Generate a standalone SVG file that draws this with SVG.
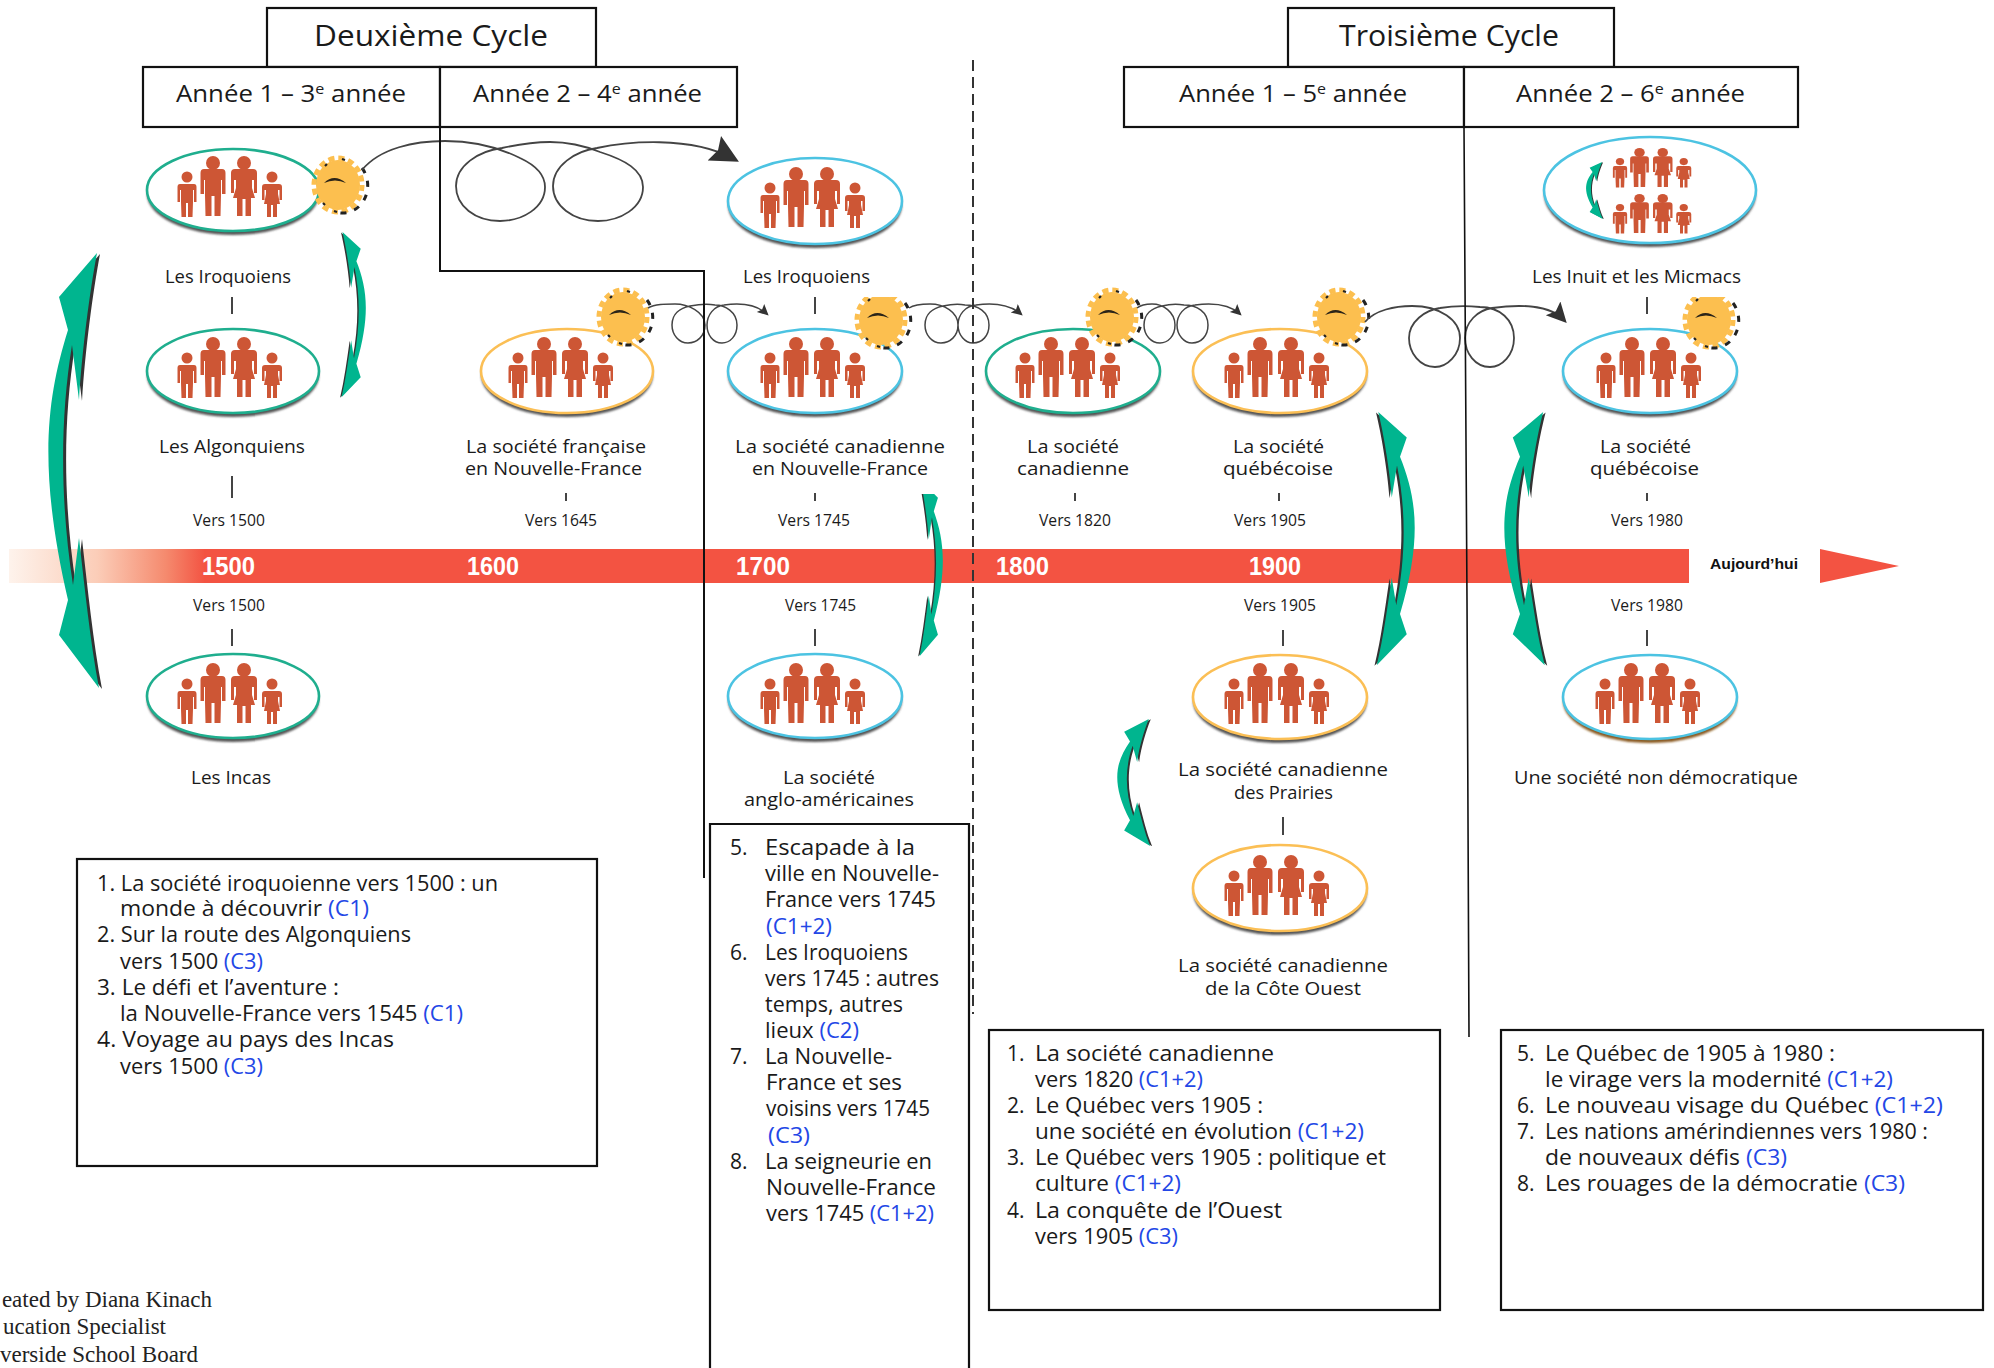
<svg xmlns="http://www.w3.org/2000/svg" xmlns:xlink="http://www.w3.org/1999/xlink" width="1994" height="1368" viewBox="0 0 1994 1368">
<style>
text{font-family:"Open Sans","Liberation Sans",sans-serif;fill:#1a1a1a}
.h1{font-size:29px}.h2{font-size:24px}.lb{font-size:18.5px}.yr{font-size:15.5px}.ls{font-size:21px}
.yb{font-family:"Liberation Sans",sans-serif;font-weight:bold;font-size:25px;fill:#fff}
.b{fill:#2347e6}
.box{fill:#fff;stroke:#111;stroke-width:2.2}
.rule{fill:none;stroke:#111;stroke-width:2}
.tick{stroke:#444;stroke-width:2}
.sh{fill:#555;filter:url(#blur)}
.ring{fill:#fff;stroke-width:2.6}
.gr{stroke:#1fae8e}.bl{stroke:#4cc3e2}.or{stroke:#fbbf55}
.sp{fill:none;stroke:#444;stroke-width:1.8}
.fig{fill:#cd5636;filter:url(#soft)}
</style>
<defs>
<filter id="blur" x="-10%" y="-10%" width="120%" height="120%"><feGaussianBlur stdDeviation="1.2"/></filter>
<filter id="soft" x="-10%" y="-10%" width="120%" height="120%"><feGaussianBlur stdDeviation="0.5"/></filter>
<linearGradient id="fade" gradientUnits="userSpaceOnUse" x1="9" y1="0" x2="205" y2="0">
<stop offset="0" stop-color="#fef3ec"/><stop offset="0.45" stop-color="#fbcdb8"/><stop offset="0.8" stop-color="#f58a6e"/><stop offset="1" stop-color="#f35342"/>
</linearGradient>
<g id="family">
<circle cx="-44" cy="-13" r="5.5" class="fig"/>
<path class="fig" d="M-53.5,-3 Q-53.5,-6 -51,-6 H-37 Q-34.5,-6 -34.5,-3 V12 H-37 V0 H-38 V12 L-38.5,27 H-43 V13 H-45 V27 H-49.5 L-50,12 V0 H-51 V12 H-53.5Z"/>
<circle cx="-18" cy="-27" r="7" class="fig"/>
<path class="fig" d="M-30.500,-17 Q-30.500,-21 -27,-21 H-9 Q-5.500,-21 -5.500,-17 V4 H-9 V-10 H-10 V5 L-10.500,26 H-16.500 V6 H-19.500 V26 H-25.500 L-26,5 V-10 H-27 V4 H-30.500Z"/>
<circle cx="13" cy="-27" r="7" class="fig"/>
<path class="fig" d="M0,-17 Q0,-21 4,-21 H22 Q26,-21 26,-17 V3 H23 V-10 H21 V-2 L24,8 H20 V26 H14.500 V9 H11.500 V26 H6 V8 H2 L5,-2 V-10 H3 V3 H0Z"/>
<circle cx="41" cy="-13" r="5.500" class="fig"/>
<path class="fig" d="M31,-3 Q31,-6 34,-6 H48 Q51,-6 51,-3 V10 H48.500 V0 H47 V4 L49,14 H46 V27 H42 V15 H40 V27 H36 V14 H33 L35,4 V0 H33.500 V10 H31Z"/>
</g>
<g id="gear">
<ellipse rx="22" ry="25" fill="#fcbf4f"/>
<ellipse rx="24" ry="27" fill="none" stroke="#fcbf4f" stroke-width="5" stroke-dasharray="6 4"/>
<path d="M24,-17 A25,27.500 0 0 1 -2,27" fill="none" stroke="#222" stroke-width="3" stroke-dasharray="6 8"/>
<path d="M-13,-19 L-11,-21 M4,-26 L7,-25 M-15,18 L-13,20 M-4,26 L-1,27" stroke="#222" stroke-width="2.200"/>
<path d="M-14,-2 Q-4,-12 8,-2 Q-3,-7 -14,-2Z" fill="#2b2418"/>
</g>
<g id="swoop">
<path transform="translate(3,1)" fill="#333" d="M49,0 L11,44 L20,77 C-2,147 -10,217 20,347 L11,382 L51,435 C42,387 37,337 31,285 L25,332 C12,247 12,167 24,92 L31,147 C34,97 42,37 49,0Z"/>
<path fill="#00b58f" d="M49,0 L11,44 L20,77 C-2,147 -10,217 20,347 L11,382 L51,435 C42,387 37,337 31,285 L25,332 C12,247 12,167 24,92 L31,147 C34,97 42,37 49,0Z"/>
</g>
<marker id="hS" viewBox="0 0 10 10" refX="8" refY="5" markerUnits="userSpaceOnUse" markerWidth="14" markerHeight="11" orient="auto"><path d="M0,0 L10,5 L0,10 L2,5Z" fill="#333"/></marker>
<marker id="hM" viewBox="0 0 10 10" refX="8" refY="5" markerUnits="userSpaceOnUse" markerWidth="26" markerHeight="20" orient="auto"><path d="M0,0 L10,5 L0,10 L2,5Z" fill="#333"/></marker>
<marker id="hL" viewBox="0 0 10 10" refX="8" refY="5" markerUnits="userSpaceOnUse" markerWidth="40" markerHeight="28" orient="auto"><path d="M0,0 L10,5 L0,10 L1.500,5Z" fill="#333"/></marker>
<clipPath id="clipF"><rect x="840" y="297" width="90" height="80"/></clipPath>
<clipPath id="clipJ"><rect x="1670" y="297" width="90" height="80"/></clipPath>
<clipPath id="clipA3"><rect x="900" y="494" width="60" height="180"/></clipPath>
</defs>
<rect width="1994" height="1368" fill="#fff"/>

<g id="timeline">
<rect x="9" y="549" width="196" height="34" fill="url(#fade)"/>
<rect x="204" y="549" width="1485" height="34" fill="#f35342"/>
<polygon points="1820,549 1899,566 1820,583" fill="#f35342"/>
<text class="yb" x="202" y="575" textLength="53" lengthAdjust="spacingAndGlyphs">1500</text>
<text class="yb" x="467" y="575" textLength="52" lengthAdjust="spacingAndGlyphs">1600</text>
<text class="yb" x="736" y="575" textLength="54" lengthAdjust="spacingAndGlyphs">1700</text>
<text class="yb" x="996" y="575" textLength="53" lengthAdjust="spacingAndGlyphs">1800</text>
<text class="yb" x="1249" y="575" textLength="52" lengthAdjust="spacingAndGlyphs">1900</text>
<text x="1710" y="569" textLength="88" lengthAdjust="spacingAndGlyphs" style="font-family:'Liberation Sans',sans-serif;font-weight:bold;font-size:15.500px;fill:#111">Aujourd’hui</text>
</g>

<g id="header-deuxieme">
<rect class="box" x="267" y="8" width="329" height="59"/>
<text class="h1" x="314" y="46" textLength="234" lengthAdjust="spacingAndGlyphs">Deuxième Cycle</text>
<rect class="box" x="143" y="67" width="297" height="60"/>
<text class="h2" x="176" y="102" textLength="230" lengthAdjust="spacingAndGlyphs">Année 1 – 3<tspan dy="-8" font-size="15">e</tspan><tspan dy="8"> année</tspan></text>
<rect class="box" x="440" y="67" width="297" height="60"/>
<text class="h2" x="473" y="102" textLength="229" lengthAdjust="spacingAndGlyphs">Année 2 – 4<tspan dy="-8" font-size="15">e</tspan><tspan dy="8"> année</tspan></text>
</g>
<g id="header-troisieme">
<rect class="box" x="1288" y="8" width="326" height="59"/>
<text class="h1" x="1339" y="46" textLength="220" lengthAdjust="spacingAndGlyphs">Troisième Cycle</text>
<rect class="box" x="1124" y="67" width="340" height="60"/>
<text class="h2" x="1179" y="102" textLength="228" lengthAdjust="spacingAndGlyphs">Année 1 – 5<tspan dy="-8" font-size="15">e</tspan><tspan dy="8"> année</tspan></text>
<rect class="box" x="1464" y="67" width="334" height="60"/>
<text class="h2" x="1516" y="102" textLength="229" lengthAdjust="spacingAndGlyphs">Année 2 – 6<tspan dy="-8" font-size="15">e</tspan><tspan dy="8"> année</tspan></text>
</g>

<g id="node-iroquoiens-1500">
<ellipse class="sh" cx="233" cy="194" rx="86" ry="41"/><ellipse class="ring gr" cx="233" cy="190" rx="86" ry="41"/>
<use href="#family" x="231" y="190"/>
<use href="#gear" x="338" y="185"/>
<text class="lb" x="165" y="283" textLength="126" lengthAdjust="spacingAndGlyphs">Les Iroquoiens</text>
</g>
<g id="node-algonquiens">
<ellipse class="sh" cx="233" cy="375" rx="86" ry="42"/><ellipse class="ring gr" cx="233" cy="371" rx="86" ry="42"/>
<use href="#family" x="231" y="371"/>
<text class="lb" x="159" y="453" textLength="146" lengthAdjust="spacingAndGlyphs">Les Algonquiens</text>
<text class="yr" x="193" y="526" textLength="72" lengthAdjust="spacingAndGlyphs">Vers 1500</text>
</g>
<g id="node-incas">
<text class="yr" x="193" y="611" textLength="72" lengthAdjust="spacingAndGlyphs">Vers 1500</text>
<ellipse class="sh" cx="233" cy="700" rx="86" ry="42"/><ellipse class="ring gr" cx="233" cy="696" rx="86" ry="42"/>
<use href="#family" x="231" y="697"/>
<text class="lb" x="191" y="784" textLength="80" lengthAdjust="spacingAndGlyphs">Les Incas</text>
</g>
<g id="node-francaise">
<ellipse class="sh" cx="567" cy="375" rx="86" ry="42"/><ellipse class="ring or" cx="567" cy="371" rx="86" ry="42"/>
<use href="#family" x="562" y="371"/>
<use href="#gear" x="623" y="317"/>
<text class="lb" x="466" y="453" textLength="180" lengthAdjust="spacingAndGlyphs">La société française</text>
<text class="lb" x="465" y="475" textLength="177" lengthAdjust="spacingAndGlyphs">en Nouvelle-France</text>
<text class="yr" x="525" y="526" textLength="72" lengthAdjust="spacingAndGlyphs">Vers 1645</text>
</g>
<g id="node-iroquoiens-1745">
<ellipse class="sh" cx="815" cy="205" rx="87" ry="43"/><ellipse class="ring bl" cx="815" cy="201" rx="87" ry="43"/>
<use href="#family" x="814" y="201"/>
<text class="lb" x="743" y="283" textLength="127" lengthAdjust="spacingAndGlyphs">Les Iroquoiens</text>
</g>
<g id="node-canadienne-nf">
<ellipse class="sh" cx="815" cy="375" rx="87" ry="42"/><ellipse class="ring bl" cx="815" cy="371" rx="87" ry="42"/>
<use href="#family" x="814" y="371"/>
<g clip-path="url(#clipF)"><use href="#gear" x="881" y="320"/></g>
<text class="lb" x="735" y="453" textLength="210" lengthAdjust="spacingAndGlyphs">La société canadienne</text>
<text class="lb" x="752" y="475" textLength="176" lengthAdjust="spacingAndGlyphs">en Nouvelle-France</text>
<text class="yr" x="778" y="526" textLength="72" lengthAdjust="spacingAndGlyphs">Vers 1745</text>
</g>
<g id="node-anglo">
<text class="yr" x="785" y="611" textLength="71" lengthAdjust="spacingAndGlyphs">Vers 1745</text>
<ellipse class="sh" cx="815" cy="700" rx="87" ry="42"/><ellipse class="ring bl" cx="815" cy="696" rx="87" ry="42"/>
<use href="#family" x="814" y="697"/>
<text class="lb" x="783" y="784" textLength="92" lengthAdjust="spacingAndGlyphs">La société</text>
<text class="lb" x="744" y="806" textLength="170" lengthAdjust="spacingAndGlyphs">anglo-américaines</text>
</g>
<g id="node-canadienne">
<ellipse class="sh" cx="1073" cy="375" rx="87" ry="42"/><ellipse class="ring gr" cx="1073" cy="371" rx="87" ry="42"/>
<use href="#family" x="1069" y="371"/>
<use href="#gear" x="1112" y="317"/>
<text class="lb" x="1027" y="453" textLength="92" lengthAdjust="spacingAndGlyphs">La société</text>
<text class="lb" x="1017" y="475" textLength="112" lengthAdjust="spacingAndGlyphs">canadienne</text>
<text class="yr" x="1039" y="526" textLength="72" lengthAdjust="spacingAndGlyphs">Vers 1820</text>
</g>
<g id="node-quebecoise-1905">
<ellipse class="sh" cx="1280" cy="375" rx="87" ry="42"/><ellipse class="ring or" cx="1280" cy="371" rx="87" ry="42"/>
<use href="#family" x="1278" y="371"/>
<use href="#gear" x="1339" y="317"/>
<text class="lb" x="1233" y="453" textLength="91" lengthAdjust="spacingAndGlyphs">La société</text>
<text class="lb" x="1223" y="475" textLength="110" lengthAdjust="spacingAndGlyphs">québécoise</text>
<text class="yr" x="1234" y="526" textLength="72" lengthAdjust="spacingAndGlyphs">Vers 1905</text>
</g>
<g id="node-prairies">
<text class="yr" x="1244" y="611" textLength="72" lengthAdjust="spacingAndGlyphs">Vers 1905</text>
<ellipse class="sh" cx="1280" cy="701" rx="87" ry="42"/><ellipse class="ring or" cx="1280" cy="697" rx="87" ry="42"/>
<use href="#family" x="1278" y="697"/>
<text class="lb" x="1178" y="776" textLength="210" lengthAdjust="spacingAndGlyphs">La société canadienne</text>
<text class="lb" x="1234" y="799" textLength="99" lengthAdjust="spacingAndGlyphs">des Prairies</text>
</g>
<g id="node-cote-ouest">
<ellipse class="sh" cx="1280" cy="892" rx="87" ry="43"/><ellipse class="ring or" cx="1280" cy="888" rx="87" ry="43"/>
<use href="#family" x="1278" y="889"/>
<text class="lb" x="1178" y="972" textLength="210" lengthAdjust="spacingAndGlyphs">La société canadienne</text>
<text class="lb" x="1205" y="995" textLength="156" lengthAdjust="spacingAndGlyphs">de la Côte Ouest</text>
</g>
<g id="node-inuit">
<ellipse class="sh" cx="1650" cy="194" rx="106" ry="53"/><ellipse class="ring bl" cx="1650" cy="190" rx="106" ry="53"/>
<use href="#family" transform="translate(1653,170) scale(.75,.65)"/>
<use href="#family" transform="translate(1653,216) scale(.75,.65)"/>
<text class="lb" x="1532" y="283" textLength="209" lengthAdjust="spacingAndGlyphs">Les Inuit et les Micmacs</text>
</g>
<g id="node-quebecoise-1980">
<ellipse class="sh" cx="1650" cy="375" rx="87" ry="42"/><ellipse class="ring bl" cx="1650" cy="371" rx="87" ry="42"/>
<use href="#family" x="1650" y="371"/>
<g clip-path="url(#clipJ)"><use href="#gear" x="1709" y="320"/></g>
<text class="lb" x="1600" y="453" textLength="91" lengthAdjust="spacingAndGlyphs">La société</text>
<text class="lb" x="1590" y="475" textLength="109" lengthAdjust="spacingAndGlyphs">québécoise</text>
<text class="yr" x="1611" y="526" textLength="72" lengthAdjust="spacingAndGlyphs">Vers 1980</text>
</g>
<g id="node-non-democratique">
<text class="yr" x="1611" y="611" textLength="72" lengthAdjust="spacingAndGlyphs">Vers 1980</text>
<ellipse class="sh" cx="1650" cy="701" rx="87" ry="42" style="fill:#8a5a20"/><ellipse class="ring bl" cx="1650" cy="697" rx="87" ry="42"/>
<use href="#family" x="1649" y="697"/>
<text class="lb" x="1514" y="784" textLength="284" lengthAdjust="spacingAndGlyphs">Une société non démocratique</text>
</g>

<g id="connectors">
<g class="ticks">
<line class="tick" x1="232" y1="297" x2="232" y2="314"/><line class="tick" x1="232" y1="476" x2="232" y2="498"/>
<line class="tick" x1="566" y1="493" x2="566" y2="501"/><line class="tick" x1="815" y1="297" x2="815" y2="314"/>
<line class="tick" x1="815" y1="493" x2="815" y2="501"/><line class="tick" x1="1075" y1="493" x2="1075" y2="501"/>
<line class="tick" x1="1279" y1="493" x2="1279" y2="501"/><line class="tick" x1="1647" y1="297" x2="1647" y2="314"/>
<line class="tick" x1="1647" y1="493" x2="1647" y2="501"/><line class="tick" x1="232" y1="629" x2="232" y2="646"/>
<line class="tick" x1="815" y1="629" x2="815" y2="646"/><line class="tick" x1="1283" y1="630" x2="1283" y2="646"/>
<line class="tick" x1="1647" y1="630" x2="1647" y2="646"/><line class="tick" x1="1283" y1="817" x2="1283" y2="835"/>
</g>
<path class="sp" marker-end="url(#hL)" d="M362,170 C380,148 415,141 445,141 C475,141 500,148 520,158 C535,165 545,175 545,187 C545,208 522,221 500,221 C475,221 456,206 456,186 C456,166 478,151 502,148 C520,144 535,142 550,142 C570,142 585,146 600,152 C625,160 643,170 643,187 C643,208 620,221 598,221 C573,221 553,206 553,186 C553,166 575,151 597,148 C625,142 690,135 734,159"/>
<path class="sp" style="stroke-width:1.500" marker-end="url(#hS)" d="M648,308 C655,304 665,304 675,304 C688,304 705,312 705,325 C705,336 697,343 688,343 C679,343 672,335 672,325 C672,314 680,308 690,306 C700,304 710,304 715,305 C725,305 737,312 737,325 C737,336 730,343 722,343 C713,343 707,335 707,325 C707,315 714,306 724,305 C738,303 755,303 767,314"/>
<path class="sp" style="stroke-width:1.500" marker-end="url(#hS)" d="M909,308 C915,304 925,304 930,304 C944,304 958,312 958,325 C958,336 950,343 941,343 C932,343 925,335 925,325 C925,314 933,308 943,306 C952,304 960,304 965,305 C978,305 989,312 989,325 C989,336 982,343 973,343 C965,343 958,335 958,325 C958,315 965,306 976,305 C990,303 1008,303 1021,314"/>
<path class="sp" style="stroke-width:1.500" marker-end="url(#hS)" d="M1137,308 C1142,304 1150,304 1152,304 C1163,304 1175,312 1175,325 C1175,336 1168,343 1160,343 C1151,343 1144,335 1144,325 C1144,314 1152,308 1162,306 C1170,304 1178,304 1184,305 C1197,305 1208,312 1208,325 C1208,336 1201,343 1192,343 C1184,343 1177,335 1177,325 C1177,315 1184,306 1195,305 C1210,303 1228,303 1240,314"/>
<path class="sp" marker-end="url(#hM)" d="M1365,322 C1375,310 1395,306 1412,306 C1440,306 1460,320 1460,338 C1460,355 1447,367 1435,367 C1420,367 1409,353 1409,338 C1409,322 1425,310 1440,308 C1452,306 1470,306 1480,307 C1500,307 1514,320 1514,338 C1514,355 1502,367 1490,367 C1475,367 1465,353 1465,338 C1465,322 1478,310 1492,308 C1520,304 1550,305 1564,320"/>
<use href="#swoop" transform="translate(48,253)"/>
<use href="#swoop" transform="translate(366,232) scale(-.48,.38)"/>
<g clip-path="url(#clipA3)"><use href="#swoop" transform="translate(943,480) scale(-.46,.405)"/></g>
<use href="#swoop" transform="translate(1415,412) scale(-.75,.582)"/>
<use href="#swoop" transform="translate(1504,412) scale(.8,.582)"/>
<use href="#swoop" transform="translate(1117,719) scale(.65,.292)"/>
<use href="#swoop" transform="translate(1586,162) scale(.33,.131)"/>
</g>

<g id="cycle-rules">
<polyline class="rule" points="440,127 440,271 704,271 704,878"/>
<line x1="973" y1="60" x2="973" y2="1014" stroke="#333" stroke-width="2" stroke-dasharray="11 6"/>
<polyline points="1464,127 1467,600 1469,1037" fill="none" stroke="#111" stroke-width="1.600"/>
</g>

<g id="list-1">
<rect class="box" x="77" y="859" width="520" height="307"/>
<text class="ls" x="97" y="891" textLength="401" lengthAdjust="spacingAndGlyphs">1. La société iroquoienne vers 1500 : un</text>
<text class="ls" x="120" y="916" textLength="249" lengthAdjust="spacingAndGlyphs">monde à découvrir <tspan class="b">(C1)</tspan></text>
<text class="ls" x="97" y="942" textLength="314" lengthAdjust="spacingAndGlyphs">2. Sur la route des Algonquiens</text>
<text class="ls" x="120" y="969" textLength="143" lengthAdjust="spacingAndGlyphs">vers 1500 <tspan class="b">(C3)</tspan></text>
<text class="ls" x="97" y="995" textLength="242" lengthAdjust="spacingAndGlyphs">3. Le défi et l’aventure :</text>
<text class="ls" x="120" y="1021" textLength="343" lengthAdjust="spacingAndGlyphs">la Nouvelle-France vers 1545 <tspan class="b">(C1)</tspan></text>
<text class="ls" x="97" y="1047" textLength="297" lengthAdjust="spacingAndGlyphs">4. Voyage au pays des Incas</text>
<text class="ls" x="120" y="1074" textLength="143" lengthAdjust="spacingAndGlyphs">vers 1500 <tspan class="b">(C3)</tspan></text>
</g>
<g id="list-2">
<polyline class="box" points="710,1368 710,824 969,824 969,1368"/>
<text class="ls" x="730" y="855">5.</text><text class="ls" x="765" y="855" textLength="150" lengthAdjust="spacingAndGlyphs">Escapade à la</text>
<text class="ls" x="765" y="881" textLength="174" lengthAdjust="spacingAndGlyphs">ville en Nouvelle-</text>
<text class="ls" x="765" y="907" textLength="171" lengthAdjust="spacingAndGlyphs">France vers 1745</text>
<text class="ls b" x="766" y="934" textLength="66" lengthAdjust="spacingAndGlyphs">(C1+2)</text>
<text class="ls" x="730" y="960">6.</text><text class="ls" x="765" y="960" textLength="143" lengthAdjust="spacingAndGlyphs">Les Iroquoiens</text>
<text class="ls" x="765" y="986" textLength="174" lengthAdjust="spacingAndGlyphs">vers 1745 : autres</text>
<text class="ls" x="765" y="1012" textLength="138" lengthAdjust="spacingAndGlyphs">temps, autres</text>
<text class="ls" x="765" y="1038" textLength="94" lengthAdjust="spacingAndGlyphs">lieux <tspan class="b">(C2)</tspan></text>
<text class="ls" x="730" y="1064">7.</text><text class="ls" x="765" y="1064" textLength="127" lengthAdjust="spacingAndGlyphs">La Nouvelle-</text>
<text class="ls" x="766" y="1090" textLength="136" lengthAdjust="spacingAndGlyphs">France et ses</text>
<text class="ls" x="766" y="1116" textLength="164" lengthAdjust="spacingAndGlyphs">voisins vers 1745</text>
<text class="ls b" x="768" y="1143" textLength="42" lengthAdjust="spacingAndGlyphs">(C3)</text>
<text class="ls" x="730" y="1169">8.</text><text class="ls" x="765" y="1169" textLength="167" lengthAdjust="spacingAndGlyphs">La seigneurie en</text>
<text class="ls" x="766" y="1195" textLength="170" lengthAdjust="spacingAndGlyphs">Nouvelle-France</text>
<text class="ls" x="766" y="1221" textLength="168" lengthAdjust="spacingAndGlyphs">vers 1745 <tspan class="b">(C1+2)</tspan></text>
</g>
<g id="list-3">
<rect class="box" x="989" y="1030" width="451" height="280"/>
<text class="ls" x="1007" y="1061">1.</text><text class="ls" x="1035" y="1061" textLength="239" lengthAdjust="spacingAndGlyphs">La société canadienne</text>
<text class="ls" x="1035" y="1087" textLength="168" lengthAdjust="spacingAndGlyphs">vers 1820 <tspan class="b">(C1+2)</tspan></text>
<text class="ls" x="1007" y="1113">2.</text><text class="ls" x="1035" y="1113" textLength="228" lengthAdjust="spacingAndGlyphs">Le Québec vers 1905 :</text>
<text class="ls" x="1035" y="1139" textLength="329" lengthAdjust="spacingAndGlyphs">une société en évolution <tspan class="b">(C1+2)</tspan></text>
<text class="ls" x="1007" y="1165">3.</text><text class="ls" x="1035" y="1165" textLength="351" lengthAdjust="spacingAndGlyphs">Le Québec vers 1905 : politique et</text>
<text class="ls" x="1035" y="1191" textLength="146" lengthAdjust="spacingAndGlyphs">culture <tspan class="b">(C1+2)</tspan></text>
<text class="ls" x="1007" y="1218">4.</text><text class="ls" x="1035" y="1218" textLength="247" lengthAdjust="spacingAndGlyphs">La conquête de l’Ouest</text>
<text class="ls" x="1035" y="1244" textLength="143" lengthAdjust="spacingAndGlyphs">vers 1905 <tspan class="b">(C3)</tspan></text>
</g>
<g id="list-4">
<rect class="box" x="1501" y="1030" width="482" height="280"/>
<text class="ls" x="1517" y="1061">5.</text><text class="ls" x="1545" y="1061" textLength="290" lengthAdjust="spacingAndGlyphs">Le Québec de 1905 à 1980 :</text>
<text class="ls" x="1545" y="1087" textLength="348" lengthAdjust="spacingAndGlyphs">le virage vers la modernité <tspan class="b">(C1+2)</tspan></text>
<text class="ls" x="1517" y="1113">6.</text><text class="ls" x="1545" y="1113" textLength="398" lengthAdjust="spacingAndGlyphs">Le nouveau visage du Québec <tspan class="b">(C1+2)</tspan></text>
<text class="ls" x="1517" y="1139">7.</text><text class="ls" x="1545" y="1139" textLength="383" lengthAdjust="spacingAndGlyphs">Les nations amérindiennes vers 1980 :</text>
<text class="ls" x="1545" y="1165" textLength="242" lengthAdjust="spacingAndGlyphs">de nouveaux défis <tspan class="b">(C3)</tspan></text>
<text class="ls" x="1517" y="1191">8.</text><text class="ls" x="1545" y="1191" textLength="360" lengthAdjust="spacingAndGlyphs">Les rouages de la démocratie <tspan class="b">(C3)</tspan></text>
</g>
<g id="credit">
<text x="212" y="1307" text-anchor="end" style="font-family:'Liberation Serif',serif;font-size:23px;fill:#222">eated by Diana Kinach</text>
<text x="166" y="1334" text-anchor="end" style="font-family:'Liberation Serif',serif;font-size:23px;fill:#222">ucation Specialist</text>
<text x="198" y="1362" text-anchor="end" style="font-family:'Liberation Serif',serif;font-size:23px;fill:#222">verside School Board</text>
</g>
</svg>
